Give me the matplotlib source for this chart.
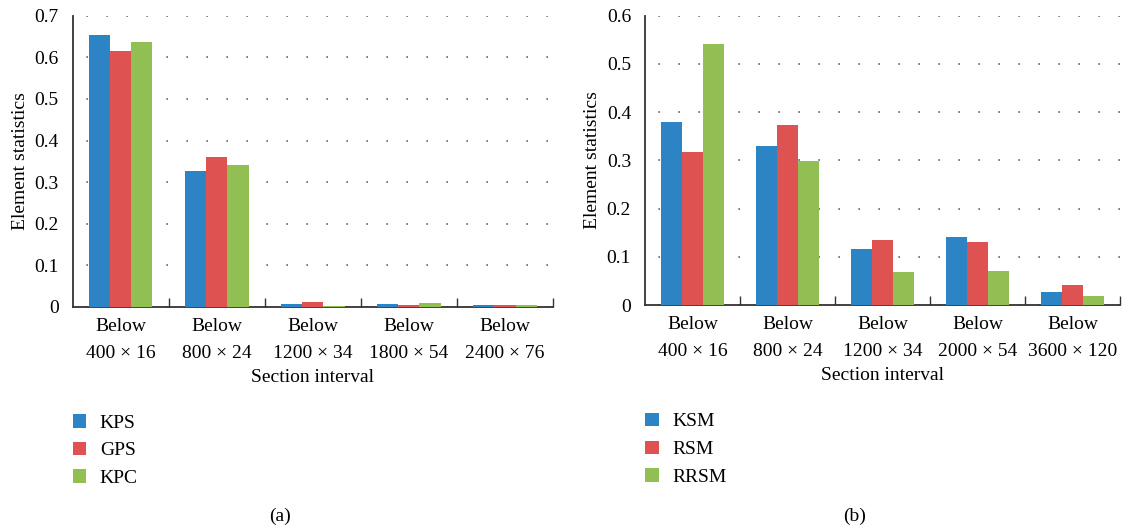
import numpy as np
import matplotlib
matplotlib.use("Agg")
from matplotlib import pyplot as plt
from matplotlib.ticker import FixedLocator, MultipleLocator

plt.rcParams['font.family'] = ['Liberation Serif', 'DejaVu Serif']

# datos de los dos paneles
cats_a = ["Below\n400 × 16", "Below\n800 × 24", "Below\n1200 × 34", "Below\n1800 × 54", "Below\n2400 × 76"]
kps = [0.653, 0.326, 0.007, 0.007, 0.004]
gps = [0.616, 0.361, 0.013, 0.005, 0.004]
kpc = [0.638, 0.342, 0.002, 0.010, 0.005]

cats_b = ["Below\n400 × 16", "Below\n800 × 24", "Below\n1200 × 34", "Below\n2000 × 54", "Below\n3600 × 120"]
ksm = [0.380, 0.330, 0.117, 0.142, 0.027]
rsm = [0.317, 0.373, 0.135, 0.131, 0.041]
rrsm = [0.541, 0.299, 0.068, 0.071, 0.019]

colores = ['#2d84c4', '#df5252', '#91bf54']
FS = 14


def dibujar_panel(ax, cats, series, nombres, ymax):
    x = np.arange(len(cats))
    w = 0.22
    for i, (vals, nom) in enumerate(zip(series, nombres)):
        ax.bar(x + (i - 1) * w, vals, width=w, color=colores[i], label=nom, zorder=3)
    ax.set_xlim(-0.5, len(cats) - 0.5)
    ax.set_ylim(0, ymax)
    ax.yaxis.set_major_locator(MultipleLocator(0.1))
    ax.set_yticklabels([f"{v:g}" for v in ax.get_yticks()])
    ax.set_xticks(x)
    ax.set_xticklabels(cats, fontsize=FS, linespacing=1.75)
    ax.xaxis.set_minor_locator(FixedLocator(np.arange(0.5, len(cats), 1.0)))
    ax.tick_params(axis='x', which='major', length=0, pad=8)
    ax.tick_params(axis='x', which='minor', direction='in', length=6.5, width=1, color='#333333')
    ax.tick_params(axis='y', length=0, pad=10, labelsize=FS)
    for s in ['top', 'right']:
        ax.spines[s].set_visible(False)
    for s in ['left', 'bottom']:
        ax.spines[s].set_linewidth(1.3)
        ax.spines[s].set_color('#333333')
    ax.grid(axis='y', linestyle=(4, (1, 11)), color='#666666', linewidth=1.2, zorder=0)
    ax.set_ylabel("Element statistics", fontsize=FS, labelpad=4)
    ax.set_xlabel("Section interval", fontsize=FS, labelpad=5)


fig = plt.figure(figsize=(11.24, 5.29), dpi=100)
ax1 = fig.add_axes([0.0647, 0.4197, 0.4273, 0.5506])
ax2 = fig.add_axes([0.5738, 0.4234, 0.4226, 0.5469])

dibujar_panel(ax1, cats_a, [kps, gps, kpc], ['KPS', 'GPS', 'KPC'], 0.7)
dibujar_panel(ax2, cats_b, [ksm, rsm, rrsm], ['KSM', 'RSM', 'RRSM'], 0.6)

for ax, xpos, ypos in [(ax1, 0.0647, 0.2174), (ax2, 0.5738, 0.2195)]:
    h, l = ax.get_legend_handles_labels()
    fig.legend(h, l, loc='upper left', bbox_to_anchor=(xpos, ypos), frameon=False,
               fontsize=FS, handlelength=0.7, handleheight=0.7, handletextpad=0.69,
               labelspacing=0.52, borderaxespad=0, borderpad=0)

fig.text(280 / 1124, 0.0236, "(a)", ha='center', va='center', fontsize=FS)
fig.text(855 / 1124, 0.0236, "(b)", ha='center', va='center', fontsize=FS)

fig.savefig("out.png", dpi=100)
